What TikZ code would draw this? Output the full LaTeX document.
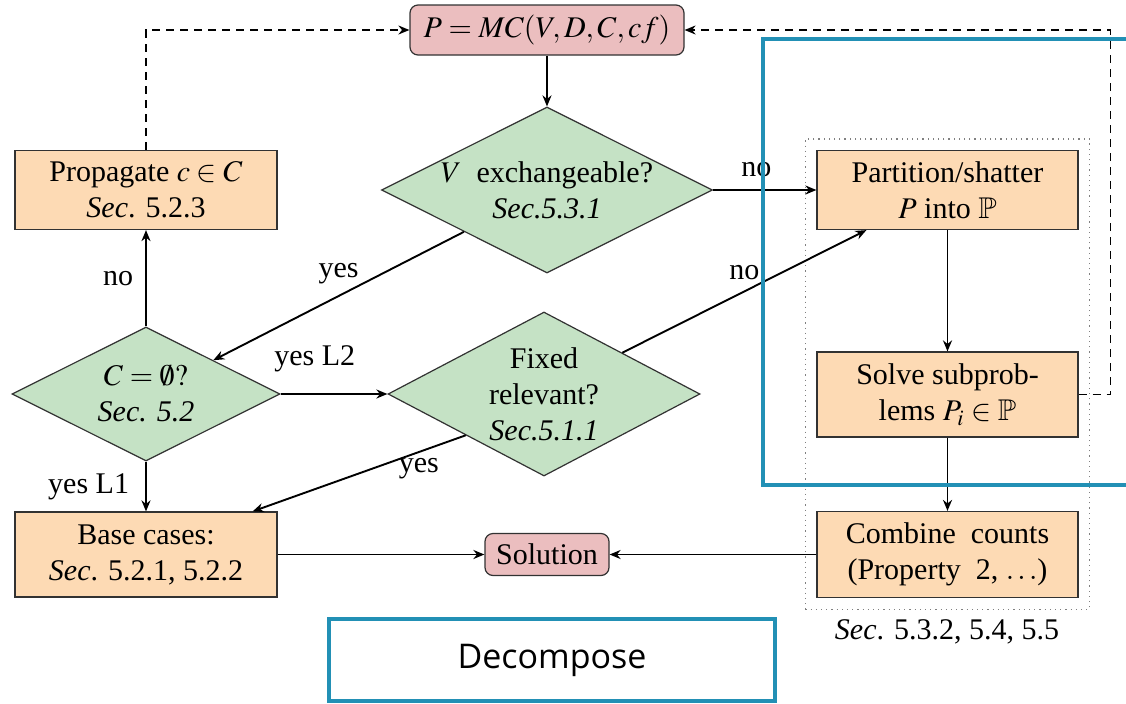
\documentclass[tikz,border=0pt]{standalone}
\usepackage{mathptmx}
\usepackage{amssymb}
\usepackage{fontspec}
\setmainfont{Liberation Serif}
\newfontfamily\decofont{Open Sans}
\usetikzlibrary{shapes.geometric,arrows.meta,fit,calc}

\definecolor{peach}{RGB}{253,218,180}
\definecolor{mint}{RGB}{197,226,197}
\definecolor{rose}{RGB}{235,190,191}
\definecolor{boxline}{RGB}{50,50,50}
\definecolor{annotblue}{RGB}{34,144,181}

\tikzset{
  box/.style={draw=boxline, line width=0.6pt, fill=peach, align=center, inner sep=0pt},
  cond/.style={diamond, draw=boxline, line width=0.6pt, fill=mint, inner sep=0pt},
  term/.style={rounded corners=4pt, draw=boxline, line width=0.6pt, fill=rose, align=center, inner sep=0pt},
  condtext/.style={align=center, inner sep=0pt},
  arr/.style={line width=0.95pt, -{Stealth[length=5.5pt,width=4.5pt]}},
  fb/.style={arr, line width=0.8pt, dash pattern=on 4pt off 3pt},
  lbl/.style={inner sep=5pt},
  annot/.style={draw=annotblue, line width=1.7pt},
}

\begin{document}
\begin{tikzpicture}[x=0.5pt, y=-0.5pt, font=\fontsize{15}{18}\selectfont]
\useasboundingbox (0,0) rectangle (1126,703);

% start node
\node[term, minimum width=137pt, minimum height=25pt] (p) at (547,30) {$P = MC(V,D,C,cf)$};

% decisions
\node[cond, minimum width=165.5pt, minimum height=83pt] (d1) at (547,190) {};
\node[condtext] (d1t) at (d1) {$V$\ \ exchangeable?\\\textit{Sec.5.3.1}};

\node[cond, minimum width=134pt, minimum height=67pt] (d2) at (146,394) {};
\node[condtext] (d2t) at (d2) {$C = \emptyset?$\\\textit{Sec. 5.2}};

\node[cond, minimum width=156pt, minimum height=82pt] (d3) at (544,394) {};
\node[condtext] (d3t) at (d3) {Fixed\\relevant?\\\textit{Sec.5.1.1}};

% process boxes, left column
\node[box, minimum width=131pt, minimum height=39.5pt] (prop) at (146,190) {Propagate $c \in C$\\\textit{Sec}. 5.2.3};
\node[box, minimum width=131pt, minimum height=42.5pt] (base) at (146,554.5) {Base cases:\\\textit{Sec}. 5.2.1, 5.2.2};

% result
\node[term, minimum width=62pt, minimum height=21pt] (sol) at (547,554.5) {Solution};

% decomposition column
\node[box, minimum width=130.5pt, minimum height=39.5pt] (part) at (947.5,190) {Partition/shatter\\$P$ into $\mathbb{P}$};
\node[box, minimum width=130.5pt, minimum height=42.5pt] (solve) at (947.5,394.5) {Solve subprob-\\lems $P_i \in \mathbb{P}$};
\node[box, minimum width=130.5pt, minimum height=43pt] (comb) at (947.5,554.5) {Combine\ \ counts\\(Property\ \ 2, $\ldots$)};
\node[fit=(part)(solve)(comb), inner sep=5.5pt, draw=gray, dotted, line width=0.6pt] (grp) {};
\node (grpsec) at (947,632) {\textit{Sec}. 5.3.2, 5.4, 5.5};

% connectors
\draw[arr] (p) -- (d1);
\draw[arr] (d1.east) -- node[lbl, pos=0.42, above=1pt] {no} (part.west);
\draw[arr] (d1.south west) -- node[lbl, pos=0.5, above=0.5pt] {yes} (d2.north east);
\draw[arr] (d2.north) -- node[lbl, left=1pt] {no} (prop.south);
\draw[arr] (d2.east) -- node[lbl, pos=0.32, above=5.5pt] {yes L2} (d3.west);
\draw[arr] (d2.south) -- node[lbl, left=3pt] {yes L1} (base.north);
\coordinate (partin) at ($(part.south west)+(50,0)$);
\draw[arr] (d3.north east) -- node[lbl, pos=0.5, above=0.5pt] {no} (partin);
\coordinate (basein) at ($(base.north east)+(-25,0)$);
\draw[arr] (d3.south west) -- node[lbl, pos=0.22, below=-2.5pt] {yes} (basein);
\draw[arr] (base) -- (sol);
\draw[arr] (comb) -- (sol);
\draw[arr] (part) -- (solve);
\draw[arr] (solve) -- (comb);

% feedback loops
\draw[fb] (prop.north) |- (p.west);
\draw[fb] (solve.east) -- ++(16pt,0) |- (p.east);

% highlight frames
\draw[annot] (763,39) rectangle (1160,485);
\node[annot, minimum width=223pt, minimum height=41pt, font=\decofont\fontsize{17}{20}\selectfont] (dec) at (552,660) {Decompose};
\end{tikzpicture}
\end{document}
